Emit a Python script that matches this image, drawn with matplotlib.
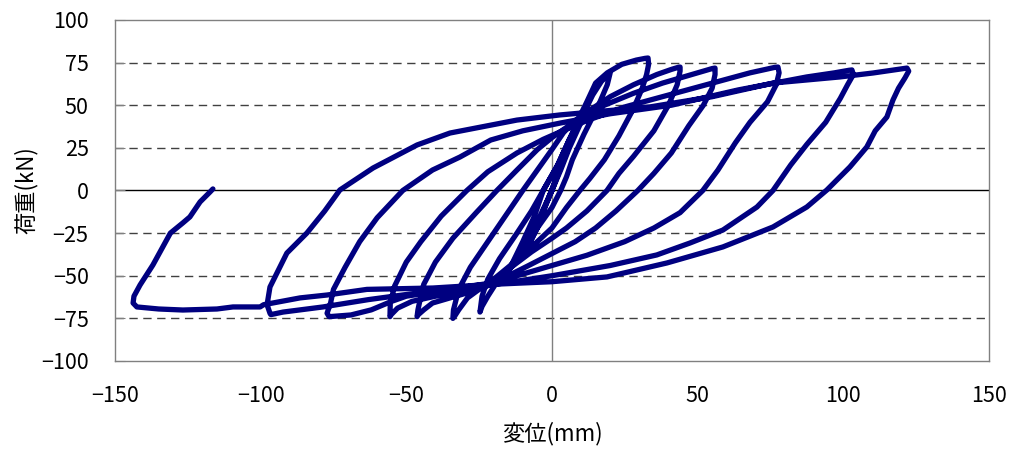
import numpy as np
import matplotlib.pyplot as plt

plt.rcParams['font.family'] = ['Noto Sans CJK JP', 'DejaVu Sans']

# small cycles around the origin (mm, kN)
small_disp = [0, 3, 6, 4, 1, -2, -5, -8, -6, -3, 0, 4, 8, 12, 10, 6, 3, 0, -6, -12, -16, -14, -10, -6, -3,
              2, 6, 10, 14, 17, 20, 19, 16, 11, 7, 5, 3, 0, -5, -10, -15, -19, -22, -24, -24.7]
small_load = [0, 15, 28, 18, 5, -8, -22, -32, -25, -12, 0, 18, 35, 48, 40, 25, 12, 0, -22, -40, -50, -44, -30, -15, 0,
              15, 30, 42, 56, 64, 69, 62, 50, 33, 18, 8, 0, -10, -22, -35, -46, -54, -62, -68, -71.3]

# cycles +33 / -34 and +44 / -46
mid1_disp = [-24, -22, -18, -12, -7, -3, 2, 6, 10, 12, 15, 19, 24, 29, 32, 33,
             33.2, 32.5, 31, 28, 23, 18, 13, 9.6, 5, 0, -5, -10, -15, -20, -25, -29, -32, -33.5, -34,
             -33.8, -32, -28, -22, -16, -10, -5, 0, 4, 8, 12, 20, 28, 36, 41, 43.5, 44,
             44, 43, 40, 35, 28, 23, 18.9, 12, 5, 0, -7, -14, -20, -27, -35, -41, -44, -46, -46.3]
mid1_load = [-62, -52, -40, -25, -12, 0, 15, 30, 45, 52, 63, 69, 74, 76.5, 77.5, 77.7,
             74, 68, 60, 48, 32, 18, 7, 0, -10, -22, -30, -38, -45, -52, -58, -63, -70, -74, -75,
             -70, -58, -45, -30, -15, 0, 12, 24, 34, 41, 46, 55, 62, 68, 71, 72.3, 72.4,
             70, 62, 50, 35, 20, 10, 0, -12, -22, -28, -36, -45, -54, -59, -63, -66, -70, -73, -74]

# cycles +56 / -56 and +78 / -77
mid2_disp = [-46, -45.5, -44, -40, -34, -26, -18.9, -12, -5, 0, 5, 10, 18, 28, 38, 48, 55, 56,
             56, 55, 52, 47, 41, 35, 29.5, 22, 15, 8, 0, -8, -15, -20, -30, -40, -48, -53, -55.3, -55.6,
             -55.5, -54, -50, -45, -38, -29.2, -22, -12, -3, 5, 12, 25, 40, 55, 68, 76.5, 77.6,
             78, 77, 74, 68, 63, 57, 51.8, 44, 35, 25, 12, 0, -12, -20, -35, -50, -55, -62, -69, -76.5, -77.2]
mid2_load = [-70, -66, -55, -42, -28, -13, 0, 12, 24, 31, 37, 42, 50, 57, 63, 68, 71.5, 71.8,
             68, 60, 50, 38, 22, 10, 0, -12, -22, -30, -37, -44, -50, -55, -59, -62, -65, -69, -73, -74,
             -66, -56, -42, -30, -15, 0, 11, 22, 30, 36, 41, 49, 56, 63, 69, 72.2, 72.4,
             69, 62, 52, 40, 28, 12, 0, -13, -22, -30, -38, -44, -50, -54, -58, -62, -65, -70, -73, -74, -72]

# cycles +103 / -97
big1_disp = [-76, -75, -71, -66, -60, -51.2, -41, -31.6, -21, -10, 3, 20, 41, 64, 87.5, 97, 102, 103,
             103.5, 101.5, 99, 94, 87.5, 82, 75.9, 70.4, 58.7, 47.4, 36, 20, 0, -15, -30, -50, -63,
             -78.6, -92.3, -96.5, -96.8]
big1_load = [-66, -58, -45, -30, -16, 0, 12, 19.6, 29.6, 35, 39.6, 45, 50, 59, 66.6, 69, 70.5, 70.7,
             68, 62, 54, 40, 27, 15, 0, -9.7, -23.2, -30.8, -37.8, -44, -50, -54, -57, -61, -64,
             -68.3, -71.3, -72.8, -72]

# cycle +122 / -143 and final unloading
big2_disp = [-97.8, -96.8, -94, -91, -84.1, -78, -72.8, -61.4, -46.3, -35, -12, 2.7, 33.6, 55, 75.9,
             98.9, 110.2, 121.9,
             122.5, 121.2, 119, 117.1, 115, 111, 108.1, 102.3, 94.4, 87.5, 75.9, 58.7, 39.5, 18.9, 0,
             -20, -40.9, -63.5, -77.2, -86.5, -99, -100.2, -109.5, -115, -126.7, -135, -142.5, -143.8,
             -143.5, -141.4, -137, -131, -126.7, -124.3, -120.8, -117.4, -116.4]
big2_load = [-67, -56.6, -47, -36.7, -24.9, -12, 0.3, 13.2, 26.7, 33.7, 41.3, 44.3, 49, 55, 63,
             66.6, 68.9, 71.8,
             70, 66, 60, 53.1, 43.1, 35, 25.5, 13.8, 0.3, -9.7, -21.4, -33.1, -42.5, -50.7, -53.5,
             -55, -57.2, -58, -61.3, -63, -67, -68.3, -68.3, -69.5, -70.1, -69.5, -68.3, -66,
             -62, -55.4, -43.7, -25, -19, -15.5, -6.7, -0.9, 0.9]

disp = small_disp + mid1_disp + mid2_disp + big1_disp + big2_disp
load = small_load + mid1_load + mid2_load + big1_load + big2_load

fig = plt.figure(figsize=(10.09, 4.49), dpi=100)
ax = fig.add_axes([0.114, 0.196, 0.866, 0.7595])

for v in [-75, -50, -25, 25, 50, 75]:
    ax.axhline(v, color='#404040', lw=1, ls=(0, (6, 4)), zorder=1)
ax.axhline(0, color='black', lw=1, zorder=1)
ax.axvline(0, color='#808080', lw=1, zorder=1)

ax.plot(disp, load, color='#000080', lw=3.8, solid_joinstyle='round', solid_capstyle='round', zorder=3)

ax.set_xlim(-150, 150)
ax.set_ylim(-100, 100)
ax.set_xticks(np.arange(-150, 151, 50))
ax.set_yticks(np.arange(-100, 101, 25))
ax.set_xticklabels(['\u2212150', '\u2212100', '\u221250', '0', '50', '100', '150'])
ax.set_yticklabels(['\u2212100', '\u221275', '\u221250', '\u221225', '0', '25', '50', '75', '100'])
for s in ax.spines.values():
    s.set_color('#808080')
    s.set_linewidth(1)
ax.tick_params(axis='y', direction='in', length=7, color='#808080', pad=19, labelsize=15.5)
ax.tick_params(axis='x', length=0, pad=17, labelsize=15.5)
ax.set_xlabel('変位(mm)', fontsize=16, labelpad=11)
ax.set_ylabel('荷重(kN)', fontsize=16, labelpad=2)

fig.savefig('out.png', dpi=100)
